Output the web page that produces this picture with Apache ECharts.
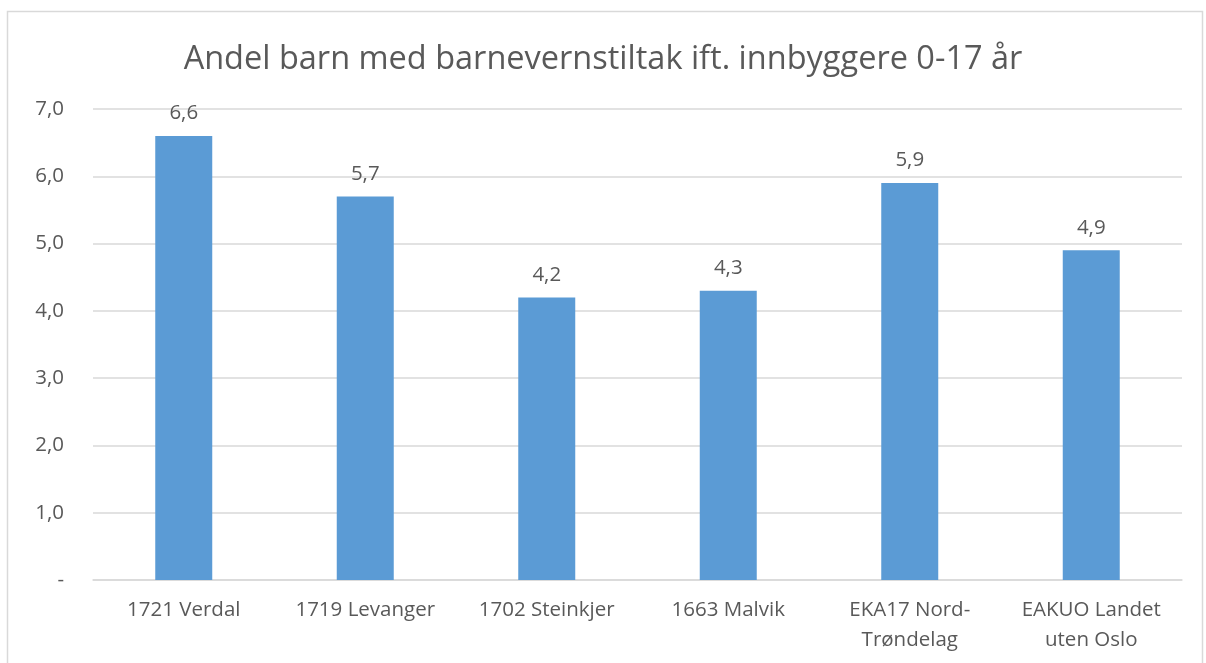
<!DOCTYPE html>
<html>
<head>
<meta charset="utf-8">
<script src="https://cdn.jsdelivr.net/npm/echarts@6/dist/echarts.min.js"></script>
<style>
  html, body { margin: 0; padding: 0; background: #fff; }
  #chart { width: 1206px; height: 663px; }
</style>
</head>
<body>
<div id="chart"></div>
<script>
// data
const categories = ['1721 Verdal', '1719 Levanger', '1702 Steinkjer', '1663 Malvik', 'EKA17 Nord-\nTrøndelag', 'EAKUO Landet\nuten Oslo'];
const values = [6.6, 5.7, 4.2, 4.3, 5.9, 4.9];
const yTicks = ['-', '1,0', '2,0', '3,0', '4,0', '5,0', '6,0', '7,0'];

const fontFam = '"Open Sans", "Liberation Sans", sans-serif';
const textCol = '#595959';

let chart = echarts.init(document.getElementById('chart'));
let option = {
    backgroundColor: '#fff',
    animation: false,
    title: {
        text: 'Andel barn med barnevernstiltak ift. innbyggere 0-17 år',
        left: 'center',
        top: 38,
        textStyle: {
            color: textCol,
            fontFamily: fontFam,
            fontSize: 32.5,
            fontWeight: 'normal'
        }
    },
    graphic: [{
        type: 'rect',
        shape: { x: 7.5, y: 11.5, width: 1195, height: 700 },
        style: { fill: 'none', stroke: '#d9d9d9', lineWidth: 1.5 },
        silent: true
    }],
    grid: {
        left: 93,
        right: 24,
        top: 109,
        bottom: 83,
        containLabel: false
    },
    xAxis: {
        type: 'category',
        data: categories,
        axisTick: { show: false },
        axisLine: { lineStyle: { color: '#d9d9d9', width: 1.5 } },
        axisLabel: {
            interval: 0,
            margin: 15,
            color: textCol,
            fontFamily: fontFam,
            fontSize: 20.5,
            lineHeight: 30
        }
    },
    yAxis: {
        type: 'value',
        min: 0,
        max: 7,
        interval: 1,
        axisLine: { show: false },
        axisTick: { show: false },
        splitLine: { lineStyle: { color: '#d9d9d9', width: 1.5 } },
        axisLabel: {
            margin: 29,
            color: textCol,
            fontFamily: fontFam,
            fontSize: 20.5,
            formatter: function (v) { return yTicks[Math.round(v)]; }
        }
    },
    series: [{
        type: 'bar',
        data: values,
        barWidth: 57,
        itemStyle: { color: '#5B9BD5' },
        label: {
            show: true,
            position: 'top',
            distance: 12,
            color: textCol,
            fontFamily: fontFam,
            fontSize: 20.5,
            formatter: function (p) { return p.value.toFixed(1).replace('.', ','); }
        }
    }]
};
chart.setOption(option);
</script>
</body>
</html>
